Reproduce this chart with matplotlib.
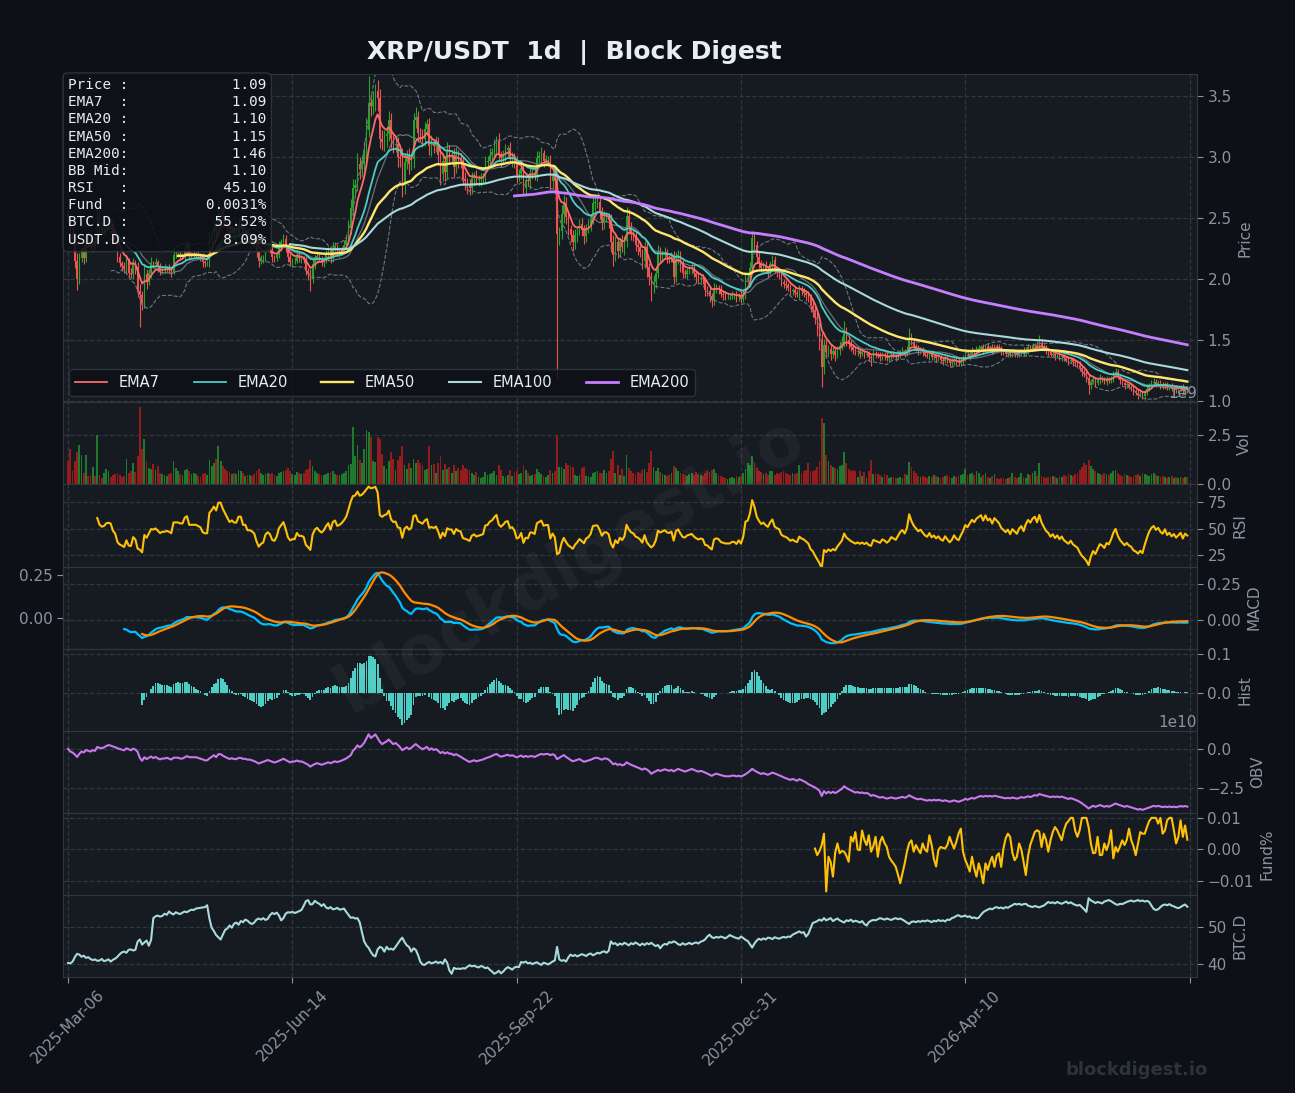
import numpy as np
import pandas as pd
import matplotlib
matplotlib.use("Agg")
import matplotlib.pyplot as plt
from matplotlib.gridspec import GridSpec

# ---------------- data ----------------
start_date = "2025-03-06"
first_open = 2.53
close_cents = [
    250,238,233,215,200,217,223,217,235,231,227,230,229,252,243,240,241,245,246,245,236,232,218,213,211,
    208,215,205,204,214,210,190,187,180,204,198,205,213,212,214,210,206,208,208,209,208,206,220,220,220,
    219,219,226,228,220,220,220,220,219,218,214,213,213,233,237,243,240,255,255,250,246,242,238,240,238,
    238,245,245,238,238,233,233,232,230,222,215,217,218,224,226,224,218,217,220,227,230,233,227,218,214,
    215,215,220,217,217,216,207,204,200,212,217,219,216,214,216,220,223,217,225,227,222,223,225,228,232,
    242,258,275,277,294,290,294,305,322,344,342,347,354,348,315,312,317,319,330,315,310,311,300,299,277,
    296,301,294,298,330,333,320,318,315,323,327,309,311,309,312,302,286,297,288,305,302,302,292,302,298,
    297,282,280,278,275,283,285,281,282,283,284,296,297,302,304,309,313,302,299,302,306,307,299,300,296,
    285,286,291,275,281,280,287,287,285,299,301,303,297,298,298,280,286,280,237,239,253,262,251,241,236,
    230,236,240,245,240,235,242,244,249,262,263,263,256,246,251,251,248,230,220,230,223,231,226,231,252,
    243,237,235,228,226,222,215,226,210,202,195,198,205,222,218,220,222,218,217,219,202,217,220,212,205,
    204,207,208,209,205,202,200,201,200,191,190,186,183,192,193,192,188,187,186,186,186,187,187,185,187,
    184,188,200,201,209,234,228,218,213,209,211,208,206,212,216,208,206,205,198,196,195,193,190,191,189,
    188,192,190,189,187,185,178,175,168,160,150,128,146,140,143,139,141,138,142,145,148,156,150,147,144,
    142,140,141,139,140,138,139,136,135,139,138,137,136,138,137,135,136,138,137,136,138,140,141,139,142,
    152,148,145,143,141,142,140,138,137,139,136,137,135,136,134,133,135,133,131,132,134,132,131,133,135,
    138,137,139,141,140,142,143,144,142,145,143,144,142,145,144,143,141,140,139,140,138,140,139,138,140,
    141,139,142,144,143,145,146,144,148,145,143,141,140,138,139,137,138,136,137,135,134,133,134,132,131,
    130,127,124,122,119,113,116,118,115,117,119,118,116,118,117,119,122,124,120,117,115,113,114,112,111,
    108,107,105,106,104,107,110,113,115,116,114,115,113,112,114,111,112,110,111,109,110,111,108,110,109,
]
wick_up_cents = [
    4,3,5,2,6,4,3,5,2,4,3,2,5,7,3,4,2,3,5,2,3,4,2,3,2,
    3,5,2,4,3,2,4,6,3,8,4,3,5,2,3,2,3,2,4,2,3,2,6,3,2,
    3,2,5,4,3,2,3,2,3,2,3,2,2,6,4,5,3,10,4,3,2,3,2,4,3,
    2,5,4,3,2,3,2,3,2,3,2,3,2,4,3,2,3,2,3,4,3,4,3,2,3,
    2,3,4,2,3,2,3,2,4,5,3,4,2,3,2,4,3,2,5,3,2,3,2,4,5,
    6,8,7,5,9,6,7,8,10,22,8,7,6,9,8,7,5,6,8,6,5,4,5,6,8,
    7,5,6,4,6,8,5,4,5,6,4,5,7,4,5,4,5,6,4,7,5,4,5,6,4,
    5,4,6,3,4,5,3,4,3,4,3,5,4,5,3,6,4,7,3,4,5,3,5,4,3,
    5,4,6,4,5,3,5,4,3,6,4,5,3,4,3,4,5,3,6,4,8,7,5,4,3,
    4,5,3,4,5,4,3,5,4,6,7,5,4,3,5,4,3,5,6,5,4,3,5,4,7,
    5,4,3,4,3,4,3,5,4,3,4,5,3,6,4,3,4,3,2,3,4,5,4,3,4,
    3,2,3,4,3,2,3,2,3,2,3,4,3,5,3,2,3,2,3,2,2,3,2,3,2,
    3,3,4,3,5,5,4,3,4,3,3,4,3,3,4,3,2,3,3,2,3,2,3,2,3,
    2,3,2,3,2,3,3,4,3,5,4,6,5,4,3,4,3,4,3,4,5,10,5,4,3,
    3,2,3,2,3,2,3,2,2,3,2,2,3,2,2,3,2,2,3,2,3,2,3,2,3,
    8,4,3,2,3,2,2,3,2,2,3,2,2,3,2,2,3,2,2,3,2,2,3,2,3,
    2,3,2,3,2,3,3,2,3,2,3,2,3,2,2,3,2,2,3,2,2,3,2,2,3,
    2,3,2,3,2,3,2,3,6,3,2,3,2,2,3,2,2,3,2,2,2,3,2,2,2,
    2,3,2,2,3,3,2,3,2,2,3,2,2,3,2,2,3,3,2,2,2,3,2,2,2,
    2,2,3,2,2,2,3,2,2,3,2,2,2,3,2,2,2,3,2,2,2,2,3,2,2,
]
wick_dn_cents = [
    5,4,3,6,9,4,3,5,3,4,3,5,4,3,5,3,4,2,3,4,3,5,4,3,4,
    3,4,5,3,4,6,5,26,5,4,6,3,4,3,2,4,3,2,3,2,3,4,2,3,2,
    3,2,3,2,4,3,2,3,2,3,4,3,2,3,4,3,4,5,3,4,3,5,4,3,4,
    3,4,3,5,3,4,3,2,3,4,5,3,4,3,2,3,4,3,2,3,4,3,5,4,3,
    4,3,2,3,4,3,4,5,10,3,4,3,2,3,4,3,5,4,3,2,3,4,3,2,3,
    4,5,6,7,5,8,6,5,7,6,8,7,9,10,8,6,7,9,6,8,7,6,8,7,10,
    7,6,8,5,7,6,8,5,7,6,5,7,8,6,5,7,9,6,8,5,7,6,8,5,7,
    6,5,7,8,6,5,7,4,5,6,4,5,4,6,5,4,6,5,7,4,5,6,4,7,5,
    6,5,4,7,5,4,6,5,4,5,4,6,5,4,5,7,5,8,118,9,6,7,6,5,6,
    7,5,6,4,5,6,5,4,5,4,6,5,7,6,5,4,6,8,9,5,6,5,4,6,5,
    6,5,4,5,6,4,7,6,8,7,13,6,5,4,5,4,3,5,4,3,6,4,5,6,4,
    3,4,3,4,3,5,4,3,4,5,4,5,6,4,3,4,3,4,3,2,3,2,3,4,3,
    4,3,4,3,4,5,4,5,4,3,4,3,4,3,4,3,4,5,4,3,4,3,4,3,4,
    3,4,3,4,5,4,5,6,5,7,8,16,6,5,4,5,4,5,3,4,3,4,5,4,3,
    3,2,3,4,2,3,2,3,6,2,3,2,3,2,3,2,3,2,2,3,2,3,2,3,2,
    3,2,3,2,3,2,3,2,2,3,2,2,3,2,2,3,2,2,3,2,2,3,2,2,3,
    2,2,3,2,2,3,2,2,3,2,2,2,3,2,2,2,3,2,2,3,2,2,3,2,2,
    3,2,2,3,2,2,3,2,2,3,2,2,3,2,2,3,2,2,3,2,2,3,2,3,2,
    3,2,3,2,3,7,3,2,3,2,3,2,2,3,2,2,3,2,2,3,2,3,2,2,3,
    3,2,3,2,2,3,2,2,3,2,2,2,3,2,2,2,2,2,3,2,2,2,2,3,2,
]
volume_1e7 = [
    117,178,67,120,162,200,150,60,150,45,50,90,45,250,50,35,60,80,70,40,50,55,60,50,40,
    45,130,60,70,110,65,142,392,178,228,120,85,80,105,75,95,60,55,48,45,52,58,118,85,70,
    55,48,75,80,70,55,60,52,45,40,55,60,50,125,95,110,130,195,120,95,80,70,65,55,60,
    52,75,68,60,45,48,50,45,55,70,80,60,50,55,60,52,58,50,45,60,65,70,75,85,70,
    55,50,65,60,55,58,75,80,122,95,70,60,55,50,48,52,60,65,70,55,50,48,55,60,70,
    100,105,292,142,200,125,110,180,275,267,240,120,115,240,230,155,95,80,120,165,130,75,125,145,195,
    100,80,110,85,130,110,125,110,100,75,80,195,100,105,60,110,145,75,105,80,90,60,100,70,85,
    75,100,85,80,75,60,50,65,40,35,40,65,50,55,60,70,50,100,75,42,38,50,75,42,65,
    70,55,60,100,75,60,45,50,55,80,65,55,45,40,50,75,60,70,250,90,90,80,110,100,95,
    90,50,45,50,85,90,45,45,40,60,65,70,60,60,75,60,70,130,170,60,100,50,80,45,150,
    85,70,60,55,65,60,75,80,65,110,167,90,70,85,65,55,50,45,50,60,95,85,70,60,55,
    50,45,55,60,50,65,55,50,45,60,70,65,75,80,60,50,45,40,35,30,35,40,35,45,40,
    45,60,80,108,100,142,110,85,70,65,55,60,50,70,70,50,60,55,65,70,60,55,50,60,55,
    60,100,60,70,75,110,70,70,75,90,120,335,310,150,120,100,90,85,80,95,100,162,110,80,70,
    75,70,40,70,45,65,35,70,125,55,60,55,50,40,55,50,35,40,40,35,35,40,35,55,50,
    113,90,70,60,45,40,45,40,35,45,40,50,45,40,35,40,45,50,40,35,45,40,45,50,55,
    80,50,55,60,50,70,60,40,50,60,40,35,45,55,35,30,35,35,30,35,40,60,40,35,40,
    60,40,35,55,50,60,70,45,110,45,40,35,40,40,45,40,35,45,40,50,45,55,50,45,55,
    60,75,90,110,100,125,95,80,70,60,55,50,60,55,50,60,70,75,60,50,45,55,50,45,40,
    45,50,55,45,60,55,50,45,55,60,50,45,40,45,40,35,40,45,35,40,35,40,35,40,40,
]
btc_dominance = [
    40.2,40.1,40.6,41.8,42.7,42.5,41.9,42.2,41.6,41.8, 41.3,41.0,41.2,40.8,40.9,41.3,40.7,40.9,41.2,40.6,
    41.1,41.4,41.9,42.6,43.1,43.3,43.0,43.8,43.9,43.6, 43.8,46.0,46.6,45.2,45.8,46.3,44.9,46.5,52.4,52.9,
    53.1,52.8,53.0,53.6,53.3,54.2,53.7,53.4,54.0,53.7, 53.5,53.9,54.2,54.0,54.4,54.7,54.6,55.0,55.1,55.2,
    55.3,55.4,55.9,52.3,49.8,48.9,47.8,47.2,46.6,47.9, 49.2,49.6,50.4,49.8,50.9,51.2,50.6,51.6,51.3,52.0,
    51.7,51.1,50.8,51.2,52.0,52.3,52.0,52.4,51.9,52.2, 53.2,53.8,53.5,53.9,53.1,51.8,52.4,53.6,54.0,53.9,
    54.1,53.8,54.0,54.3,54.6,55.7,57.0,57.3,56.1,56.2, 57.1,56.6,56.3,55.7,56.2,55.3,55.0,55.4,54.8,54.9,
    55.2,54.7,54.8,55.0,54.1,53.3,52.5,52.6,52.3,52.4, 51.3,48.6,46.1,45.0,44.3,43.2,42.3,42.0,43.9,44.6,
    44.3,43.3,44.6,43.9,44.1,43.8,44.6,45.5,46.4,47.1, 45.9,45.0,44.6,43.3,44.2,43.8,42.4,40.6,39.8,39.7,
    40.2,40.5,40.1,40.3,40.6,40.2,40.5,40.0,41.2,40.3, 38.2,37.3,38.9,38.6,38.7,38.6,38.8,38.7,39.2,39.6,
    39.3,39.5,39.2,39.0,39.4,39.2,38.8,39.0,38.4,37.9, 37.3,37.6,38.1,37.4,37.9,38.6,39.1,38.8,38.4,39.0,
    39.2,39.1,40.5,40.3,40.6,40.1,40.3,39.9,40.2,40.4, 40.0,39.7,40.3,40.1,39.8,40.2,40.6,40.9,44.6,41.2,
    40.8,41.0,40.6,41.7,42.5,42.1,42.4,42.0,42.3,42.6, 42.4,42.1,42.6,42.8,42.3,42.6,43.0,42.8,43.2,43.4,
    43.0,43.5,46.1,45.4,45.6,45.0,45.5,45.2,45.7,45.4, 45.0,45.6,45.3,45.8,45.4,45.0,45.5,45.1,45.6,45.3,
    45.7,45.2,44.8,45.1,44.2,45.0,45.4,45.2,45.9,45.7, 46.1,45.8,45.3,45.1,45.6,45.2,45.4,45.7,45.3,45.6,
    45.8,45.5,46.0,46.2,46.6,47.4,47.9,47.2,47.0,47.3, 47.1,47.4,47.2,46.9,47.3,47.8,47.5,47.2,47.0,46.8,
    47.4,47.0,46.5,46.2,45.3,44.4,45.5,46.3,46.8,46.5, 46.9,46.6,47.1,47.0,46.7,47.2,47.0,46.8,47.1,47.3,
    47.1,47.4,47.3,47.9,48.2,48.5,48.8,48.4,48.6,47.4, 48.1,49.6,51.1,51.3,51.6,52.0,51.7,52.4,51.8,52.1,
    52.4,51.6,52.0,52.3,51.8,51.5,51.2,51.8,51.6,52.0, 51.4,51.7,51.5,51.2,51.6,50.8,50.4,51.3,51.7,51.9,
    51.8,52.1,52.4,52.2,52.0,52.3,52.1,51.9,52.2,52.4, 52.1,52.3,52.0,51.6,51.2,50.8,51.4,51.5,51.3,51.6,
    51.4,51.7,51.5,51.8,51.6,51.3,51.7,51.5,51.9,51.6, 51.8,51.5,52.0,51.9,52.4,52.6,53.0,53.2,52.8,52.9,
    53.1,52.7,52.9,52.4,52.6,52.3,52.5,53.3,54.0,54.4, 54.7,55.0,54.8,55.2,55.4,55.1,55.3,55.0,55.4,55.2,
    55.6,55.9,56.3,56.1,56.3,56.0,56.2,56.3,55.8,55.6, 55.4,55.7,55.5,55.3,55.6,55.8,56.3,56.8,56.5,56.7,
    56.4,56.8,56.5,56.3,56.6,56.9,56.4,56.7,56.3,56.0, 55.8,56.0,55.4,54.8,54.1,57.8,57.2,56.9,56.5,56.8,
    56.6,56.4,56.9,57.1,57.3,57.0,56.6,56.2,56.0,56.3, 56.2,56.5,56.8,57.0,57.2,56.9,57.1,57.3,57.0,57.2,
    56.9,57.1,56.8,55.8,54.9,54.6,54.8,55.4,55.9,56.1, 55.9,56.2,55.8,55.6,55.3,55.1,55.4,55.8,56.1,55.5,
]
# funding rate in units of 0.0001 %, available for the last days only
funding_1e4 = [
    3,-18,-5,14,50,-133,-23,-40,-86,-10,19,-12,-5,-7,-20,-39,40,25,55,0,-2,60,30,14,45,
    -7,10,40,-23,24,40,20,8,-23,-35,-44,-55,-80,-107,-75,-44,-7,20,29,-7,14,0,-12,19,0,
    -7,45,14,-30,-54,-2,8,5,3,14,40,20,3,24,50,66,-7,-33,-50,-70,-23,-60,-86,-44,-70,
    -107,-44,-65,-40,-23,-55,-20,-12,-55,3,35,50,40,-10,-34,-23,19,0,-39,-81,-20,15,35,55,61,
    56,8,50,30,-7,29,55,71,61,45,29,61,82,90,100,100,60,40,61,100,100,100,70,19,-12,
    -10,40,-18,-17,19,-2,20,61,-28,8,-7,10,29,14,30,66,29,10,-18,19,55,50,50,71,90,
    100,100,100,82,100,50,60,92,100,100,61,19,40,92,40,76,31,
]
info_labels = ["Price", "EMA7", "EMA20", "EMA50", "EMA200", "BB Mid", "RSI", "Fund", "BTC.D", "USDT.D"]
info_values = ["1.09", "1.09", "1.10", "1.15", "1.46", "1.10", "45.10", "0.0031%", "55.52%", "8.09%"]
ema_spans = [7, 20, 50, 100, 200]
ema_colors = ["#ff6b6b", "#4ecdc4", "#ffe66d", "#a8dadc", "#c77dff"]
ema_widths = [1.3, 1.3, 1.7, 1.5, 2.0]

# ---------------- derived series ----------------
close = np.array(close_cents) / 100.0
n = len(close)
x = np.arange(n)
open_ = np.r_[first_open, close[:-1]]
high = np.maximum(open_, close) + np.array(wick_up_cents) / 100.0
low = np.minimum(open_, close) - np.array(wick_dn_cents) / 100.0
vol = np.array(volume_1e7, dtype=float) * 1e7
up = close >= open_
s = pd.Series(close)

emas = [s.ewm(span=sp, adjust=False, min_periods=sp).mean() for sp in ema_spans]
bb_mid = s.rolling(20).mean()
bb_std = s.rolling(20).std(ddof=0)
bb_up = bb_mid + 2 * bb_std
bb_lo = bb_mid - 2 * bb_std

delta = s.diff().fillna(0)
gain = delta.clip(lower=0).ewm(alpha=1/14, adjust=False, min_periods=14).mean()
loss = (-delta.clip(upper=0)).ewm(alpha=1/14, adjust=False, min_periods=14).mean()
rsi = 100 - 100 / (1 + gain / loss)

ema12 = s.ewm(span=12, adjust=False, min_periods=12).mean()
ema26 = s.ewm(span=26, adjust=False, min_periods=26).mean()
macd = ema12 - ema26
signal = macd.ewm(span=9, adjust=False, min_periods=9).mean()
hist = macd - signal

obv = (np.sign(s.diff()).fillna(0) * vol).cumsum()

fund = np.array(funding_1e4) / 1e4
fund_x = np.arange(n - len(fund), n)
btc = np.array(btc_dominance)

dates = pd.date_range(start_date, periods=n, freq="D")
tick_pos = list(range(0, n + 1, 100))
tick_lab = [dates[p].strftime("%Y-%b-%d") if p < n else "" for p in tick_pos]

# ---------------- style ----------------
FIG_BG = "#0d1117"
AX_BG = "#161b22"
EDGE = "#30363d"
TXT = "#e6edf3"
MUTED = "#8b949e"
plt.rcParams.update({
    "font.family": ["DejaVu Sans"],
    "figure.facecolor": FIG_BG,
    "axes.facecolor": AX_BG,
    "axes.edgecolor": EDGE,
    "axes.labelcolor": MUTED,
    "xtick.color": MUTED,
    "ytick.color": MUTED,
    "xtick.labelsize": 11,
    "ytick.labelsize": 11,
    "axes.labelsize": 11,
    "grid.color": EDGE,
    "grid.linestyle": "--",
    "grid.linewidth": 0.9,
    "text.color": TXT,
})

fig = plt.figure(figsize=(12.95, 10.93), dpi=100)
gs = GridSpec(8, 1, figure=fig, height_ratios=[4, 1, 1, 1, 1, 1, 1, 1], hspace=0,
              left=0.0486, right=0.9243, top=0.9323, bottom=0.1061)
axes = [fig.add_subplot(gs[0])]
for k in range(1, 8):
    axes.append(fig.add_subplot(gs[k], sharex=axes[0]))
ax_p, ax_v, ax_r, ax_m, ax_h, ax_o, ax_f, ax_b = axes

# MACD left twin (signal line) - created first, then restore right ticks on main
ax_ml = ax_m.twinx()

for ax in axes:
    ax.yaxis.tick_right()
    ax.yaxis.set_label_position("right")
    ax.grid(True)
    ax.set_axisbelow(True)
    ax.tick_params(axis="x", labelbottom=False, length=4)
    ax.tick_params(axis="y", length=4)
ax_p.set_xlim(-2.3, n + 3.3)
ax_p.set_xticks(tick_pos)
ax_b.tick_params(axis="x", labelbottom=True)
ax_b.set_xticklabels(tick_lab, rotation=45, ha="center")

# price panel
col_c = np.where(up, "#2ca02c", "#ef5350")
ax_p.vlines(x, low, high, colors=col_c, linewidth=0.8, zorder=2)
ax_p.bar(x, close - open_, bottom=open_, width=0.65, color=col_c, zorder=3)
ax_p.plot(x, bb_up, color="#6e7681", lw=0.8, ls="--", zorder=2)
ax_p.plot(x, bb_lo, color="#6e7681", lw=0.8, ls="--", zorder=2)
ax_p.plot(x, bb_mid, color="#8b949e", lw=0.9, alpha=0.7, zorder=2)
for e, sp, c, w in zip(emas, ema_spans, ema_colors, ema_widths):
    ax_p.plot(x, e, color=c, lw=w, label=f"EMA{sp}", zorder=4)
ax_p.set_ylim(0.99, 3.68)
ax_p.set_yticks([1.0, 1.5, 2.0, 2.5, 3.0, 3.5])
ax_p.set_ylabel("Price")
leg = ax_p.legend(loc="lower left", ncol=5, fontsize=10.5, facecolor=FIG_BG, edgecolor=EDGE,
                  framealpha=0.85, labelcolor=TXT, handlelength=2.2, columnspacing=2.3,
                  borderaxespad=0.45)
leg.set_zorder(6)
info = "\n".join(f"{lab:<6}:{val:>16}" for lab, val in zip(info_labels, info_values))
ax_p.text(0.0045, 0.988, info, transform=ax_p.transAxes, va="top", ha="left",
          family="DejaVu Sans Mono", fontsize=10.3, color=TXT, zorder=10, linespacing=1.29,
          bbox=dict(boxstyle="round,pad=0.35", fc=FIG_BG, ec=EDGE, alpha=0.88))

# volume
ax_v.bar(x, vol, width=0.8, color=np.where(up, "#1f7a2e", "#931d1d"))
ax_v.set_ylim(0, 4.15e9)
ax_v.set_yticks([0, 2.5e9])
ax_v.set_ylabel("Vol")

# RSI
ax_r.plot(x, rsi, color="#ffc107", lw=1.5)
ax_r.set_ylim(14.6, 91)
ax_r.set_yticks([25, 50, 75])
ax_r.set_ylabel("RSI")

# MACD (MACD on the right axis, signal on the left twin)
ax_m.plot(x, macd, color="#00bfff", lw=1.6)
ax_m.set_ylim(-0.196, 0.372)
ax_m.set_yticks([0.0, 0.25])
ax_m.set_ylabel("MACD")
ax_ml.yaxis.tick_left()
ax_ml.plot(x, signal, color="#ff8c00", lw=1.6)
ax_ml.set_ylim(-0.176, 0.301)
ax_ml.set_yticks([0.0, 0.25])
ax_ml.tick_params(axis="y", length=4)
for sp in ax_ml.spines.values():
    sp.set_color(EDGE)

# histogram
ax_h.bar(x, hist, width=0.8, color="#4ecdc4")
ax_h.set_ylim(-0.097, 0.113)
ax_h.set_yticks([0.0, 0.1])
ax_h.set_ylabel("Hist")

# OBV
ax_o.plot(x, obv, color="#cc77ee", lw=1.5)
ax_o.set_ylim(-4.1e10, 1.15e10)
ax_o.set_yticks([-2.5e10, 0])
ax_o.set_ylabel("OBV")

# funding
ax_f.plot(fund_x, fund, color="#ffc107", lw=1.5)
ax_f.set_ylim(-0.0144, 0.0116)
ax_f.set_yticks([-0.01, 0.0, 0.01])
ax_f.set_ylabel("Fund%")

# BTC dominance
ax_b.plot(x, btc, color="#a8dadc", lw=1.5)
ax_b.set_ylim(36.4, 58.7)
ax_b.set_yticks([40, 50])
ax_b.set_ylabel("BTC.D")

fig.text(0.4436, 0.9524, "XRP/USDT  1d  |  Block Digest", ha="center", va="center",
         fontsize=18, fontweight="bold", color=TXT)
fig.text(0.44, 0.483, "blockdigest.io", ha="center", va="center", rotation=30,
         fontsize=48, fontweight="bold", color="white", alpha=0.045, zorder=20)
fig.text(0.878, 0.021, "blockdigest.io", ha="center", va="center",
         fontsize=13, fontweight="bold", color="#2d333b")

fig.savefig("out.png", dpi=100, facecolor=FIG_BG)
